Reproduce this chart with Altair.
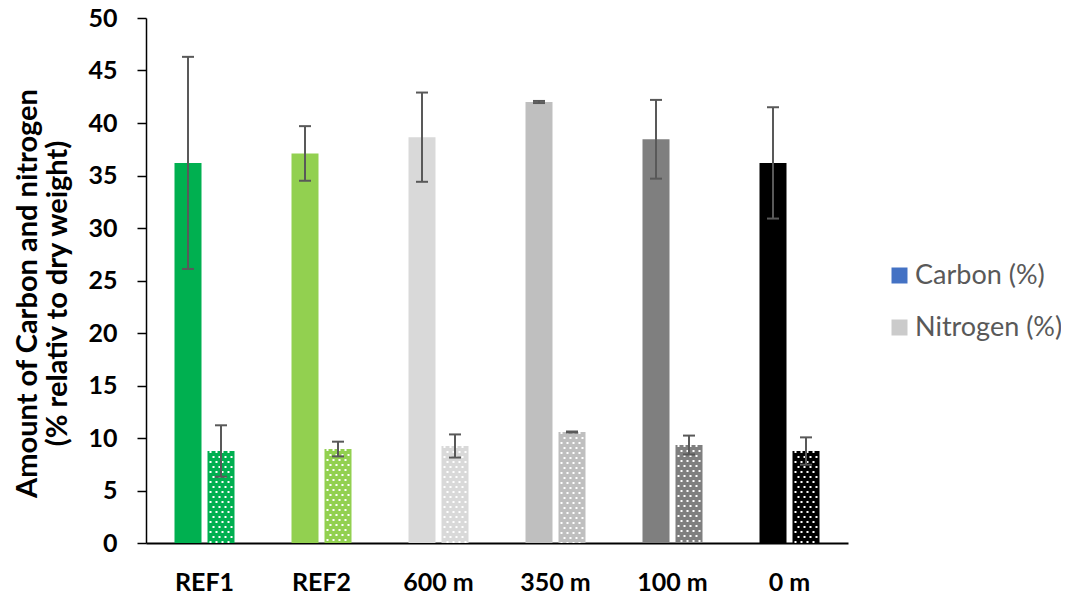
import altair as alt
import pandas as pd

categories = ["REF1", "REF2", "600 m", "350 m", "100 m", "0 m"]
carbon = [36.2, 37.1, 38.65, 42.0, 38.45, 36.2]
carbon_err = [10.1, 2.6, 4.25, 0.1, 3.75, 5.3]
nitrogen = [8.76, 8.95, 9.24, 10.57, 9.33, 8.76]
nitrogen_err = [2.45, 0.7, 1.1, 0.05, 0.9, 1.3]
bar_colors = ["#00B050", "#92D050", "#D9D9D9", "#BFBFBF", "#7F7F7F", "#000000"]
series = ["Carbon (%)", "Nitrogen (%)"]
series_colors = ["#4472C4", "#CBCBCB"]

df = pd.DataFrame({
    "cat": categories,
    "carbon": carbon,
    "carbon_err": carbon_err,
    "nitrogen": nitrogen,
    "nitrogen_err": nitrogen_err,
})
leg_df = pd.DataFrame({"series": series})

FONT = "Lato"
ERR = "#595959"
BW = 27
OFF = 16.5

base = alt.Chart(df).transform_calculate(
    c_lo="datum.carbon - datum.carbon_err",
    c_hi="datum.carbon + datum.carbon_err",
    n_lo="datum.nitrogen - datum.nitrogen_err",
    n_hi="datum.nitrogen + datum.nitrogen_err",
)

xenc = alt.X(
    "cat:N",
    sort=categories,
    scale=alt.Scale(paddingInner=0, paddingOuter=0),
    axis=alt.Axis(
        title=None, labelAngle=0, ticks=False, tickSize=0, labelPadding=27,
        labelFont=FONT, labelFontWeight="bold", labelFontSize=25, labelColor="black",
        domainColor="black", domainWidth=2,
    ),
)
xs = alt.X("cat:N", sort=categories)
yscale = alt.Scale(domain=[0, 50], nice=False)
colorenc = alt.Color("cat:N", sort=categories,
                     scale=alt.Scale(domain=categories, range=bar_colors), legend=None)

carbon_bars = base.mark_bar(width=BW, xOffset=-OFF).encode(
    x=xenc,
    y=alt.Y(
        "carbon:Q", scale=yscale,
        axis=alt.Axis(
            values=list(range(0, 51, 5)), grid=False,
            title=["Amount of Carbon and nitrogen", "(% relativ to dry weight)"],
            titleFont=FONT, titleFontWeight="bold", titleFontSize=29, titleColor="black",
            titleX=-104, titleY=275, titleBaseline="bottom", titleAlign="center",
            titleAngle=270, titleLineHeight=30,
            labelFont=FONT, labelFontWeight="bold", labelFontSize=25, labelColor="black",
            labelPadding=20, tickSize=9, tickWidth=1.5, tickColor="black",
            domainColor="black", domainWidth=1.5,
        ),
    ),
    color=colorenc,
)

nitro_bars = base.mark_bar(width=BW, xOffset=OFF).encode(
    x=xs, y=alt.Y("nitrogen:Q", scale=yscale), color=colorenc,
)

dot_layers = []
for k in range(8):
    dot_layers.append(
        base.mark_rule(
            xOffset=OFF - 10.5 + 3 * k, color="white", strokeWidth=2,
            strokeDash=[2, 8], strokeDashOffset=(0 if k % 2 == 0 else 5),
        ).encode(x=xs, y=alt.Y("nitrogen:Q", scale=yscale), y2=alt.datum(0))
    )

def errbars(lo, hi, off):
    rule = base.mark_rule(xOffset=off, color=ERR, strokeWidth=2).encode(
        x=xs, y=alt.Y(f"{lo}:Q", scale=yscale), y2=f"{hi}:Q")
    cap_lo = base.mark_tick(xOffset=off, orient="horizontal", size=12, thickness=2,
                            color=ERR, opacity=1).encode(x=xs, y=alt.Y(f"{lo}:Q", scale=yscale))
    cap_hi = base.mark_tick(xOffset=off, orient="horizontal", size=12, thickness=2,
                            color=ERR, opacity=1).encode(x=xs, y=alt.Y(f"{hi}:Q", scale=yscale))
    return [rule, cap_lo, cap_hi]

legend_layer = alt.Chart(leg_df).mark_square(opacity=0, size=0).encode(
    fill=alt.Fill(
        "series:N", sort=series,
        scale=alt.Scale(domain=series, range=series_colors),
        legend=alt.Legend(
            title=None, orient="none", legendX=740, legendY=244,
            symbolType="square", symbolSize=256, symbolOpacity=1, symbolStrokeWidth=0,
            labelFont=FONT, labelFontSize=27, labelColor="#595959",
            rowPadding=24, labelOffset=2,
        ),
    )
)

layers = [carbon_bars, nitro_bars] + dot_layers + errbars("c_lo", "c_hi", -OFF) + \
    errbars("n_lo", "n_hi", OFF) + [legend_layer]

chart = alt.layer(*layers).properties(
    width=702, height=525,
    padding={"left": 138, "top": 10, "right": 213, "bottom": 52},
    autosize=alt.AutoSizeParams(type="none"),
).configure_view(stroke=None)

chart.save("out.html", embed_options={"renderer": "svg", "actions": False})
